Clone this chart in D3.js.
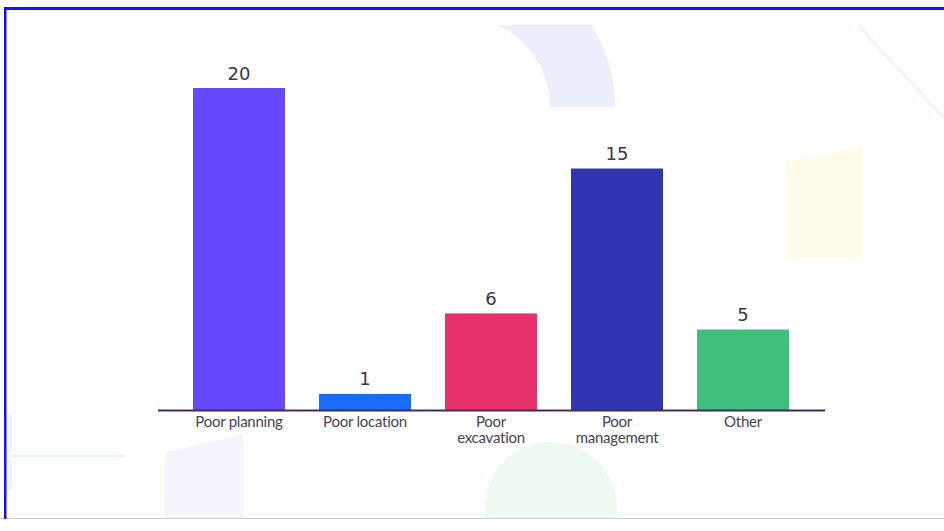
<!DOCTYPE html>
<html><head><meta charset="utf-8">
<script src="https://cdn.jsdelivr.net/npm/d3@7"></script>
<style>html,body{margin:0;padding:0;background:#fff;}svg{display:block;}</style>
</head><body>
<script>
const categories = ["Poor planning", "Poor location", "Poor excavation", "Poor management", "Other"];
const labelLines = [["Poor planning"], ["Poor location"], ["Poor", "excavation"], ["Poor", "management"], ["Other"]];
const values = [20, 1, 6, 15, 5];
const colors = ["#6648fe", "#1a6cf9", "#e8336a", "#3036b0", "#3fbf7e"];

const W = 944, H = 531;
const svg = d3.select("body").append("svg").attr("width", W).attr("height", H);

// decorative background
const deco = svg.append("g");
deco.append("defs").append("clipPath").attr("id", "clipTop")
  .append("rect").attr("x", 0).attr("y", 25).attr("width", W).attr("height", 493);
const dg = deco.append("g").attr("clip-path", "url(#clipTop)");
dg.append("path")
  .attr("transform", "translate(460,107)")
  .attr("d", d3.arc().innerRadius(90).outerRadius(155).startAngle(0).endAngle(Math.PI / 2)())
  .attr("fill", "#eceefb");
dg.append("path").attr("d", "M785,162 L862,146 L862,258 L785,258 Z").attr("fill", "#fffbe9");
dg.append("line").attr("x1", 858).attr("y1", 25).attr("x2", 944).attr("y2", 118)
  .attr("stroke", "#edf8f3").attr("stroke-width", 3);
dg.append("path").attr("d", "M165,452 L243,434 L243,518 L165,518 Z").attr("fill", "#f4f4fc");
dg.append("circle").attr("cx", 551).attr("cy", 508).attr("r", 66).attr("fill", "#eefaf0");
dg.append("line").attr("x1", 10).attr("y1", 456).attr("x2", 125).attr("y2", 456)
  .attr("stroke", "#eef1f9").attr("stroke-width", 3);
dg.append("line").attr("x1", 10).attr("y1", 415).attr("x2", 10).attr("y2", 490)
  .attr("stroke", "#f1f4fa").attr("stroke-width", 4);

// frame
svg.append("line").attr("x1", 0).attr("x2", W).attr("y1", 518.5).attr("y2", 518.5)
  .attr("stroke", "#cfcfcf").attr("stroke-width", 1);
svg.append("rect").attr("x", 4).attr("y", 7).attr("width", W).attr("height", 3).attr("fill", "#1212f5");
svg.append("rect").attr("x", 4).attr("y", 7).attr("width", 2.5).attr("height", 512).attr("fill", "#1212f5");

// scales
const x = d3.scaleBand().domain(categories).range([176, 806]).paddingInner(0.27).paddingOuter(0.135);
const y = d3.scaleLinear().domain([0, 20]).range([410, 88]);

const data = categories.map((c, i) => ({c, v: values[i], col: colors[i], lines: labelLines[i]}));

svg.append("g").selectAll("rect").data(data).join("rect")
  .attr("x", d => x(d.c)).attr("width", x.bandwidth())
  .attr("y", d => y(d.v)).attr("height", d => y(0) - y(d.v))
  .attr("fill", d => d.col);

svg.append("g").selectAll("text").data(data).join("text")
  .attr("x", d => x(d.c) + x.bandwidth() / 2).attr("y", d => y(d.v) - 8.5)
  .attr("text-anchor", "middle")
  .attr("font-family", "'DejaVu Sans', sans-serif").attr("font-size", 18)
  .attr("fill", "#3a3350").text(d => d.v);

// axis baseline
svg.append("line").attr("x1", 158).attr("x2", 825).attr("y1", y(0) + 0.5).attr("y2", y(0) + 0.5)
  .attr("stroke", "#3f2c5c").attr("stroke-width", 2.2);

// category labels
const lab = svg.append("g").selectAll("text").data(data).join("text")
  .attr("text-anchor", "middle")
  .attr("font-family", "Lato, 'Liberation Sans', sans-serif").attr("font-size", 15)
  .attr("fill", "#464358")
  .attr("letter-spacing", -0.25)
  .attr("transform", d => `translate(${x(d.c) + x.bandwidth() / 2},426.5)`);
lab.selectAll("tspan").data(d => d.lines).join("tspan")
  .attr("x", 0).attr("dy", (d, i) => i === 0 ? 0 : 16.5).text(d => d);
</script>
</body></html>
